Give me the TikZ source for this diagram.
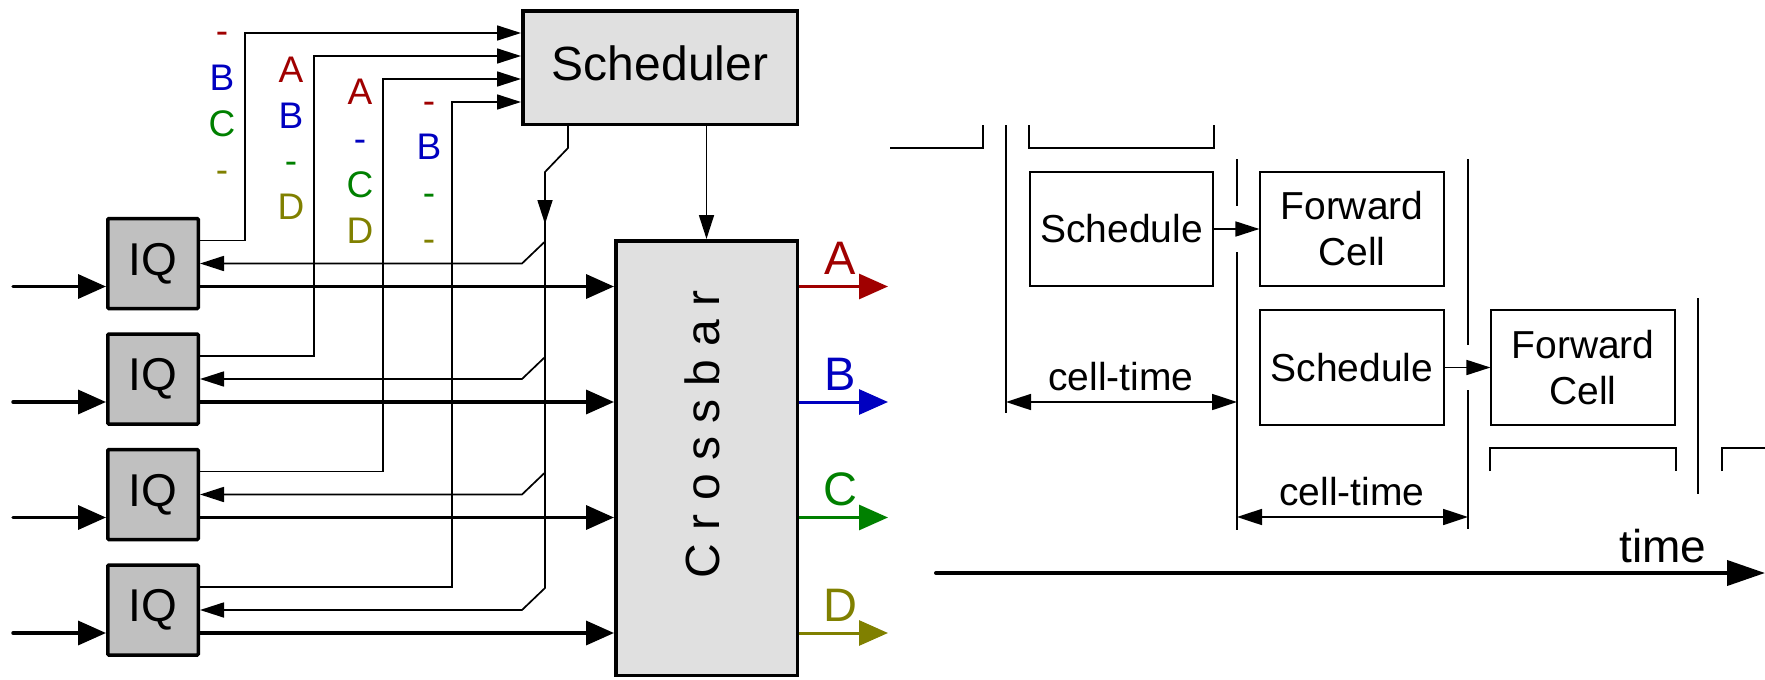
\documentclass[tikz,border=0pt]{standalone}
\usepackage{fontspec}
\setmainfont{Liberation Sans}
\usetikzlibrary{arrows.meta,calc}
\definecolor{cA}{RGB}{160,0,0}
\definecolor{cB}{RGB}{0,0,192}
\definecolor{cC}{RGB}{0,128,0}
\definecolor{cD}{RGB}{128,128,0}
\definecolor{schedfill}{RGB}{224,224,224}
\definecolor{iqfill}{RGB}{192,192,192}
\begin{document}
\begin{tikzpicture}[x=1pt,y=-1pt,
  thinln/.style={line width=1.7pt},
  thinarr/.style={line width=1.7pt,-{Triangle[length=24pt,width=15pt]}},
  thickarr/.style={line width=3.5pt,line cap=round,-{Triangle[length=28pt,width=24pt]}},
  outarr/.style={line width=3pt,-{Triangle[length=29pt,width=25pt]}},
  iq/.style={draw,line width=3.5pt,fill=iqfill,minimum width=90.5pt,minimum height=90pt,inner sep=0pt,font=\fontsize{46}{50}\selectfont,rounded corners=1pt},
  bigbox/.style={draw,line width=3.5pt,fill=schedfill,inner sep=0pt},
  tbox/.style={draw,line width=1.7pt,minimum width=183.4pt,minimum height=114.4pt,inner sep=0pt,font=\fontsize{39}{46}\selectfont,align=center},
  lab/.style={anchor=base,font=\fontsize{37}{40}\selectfont},
  outlab/.style={anchor=base,font=\fontsize{47}{50}\selectfont},
  ctarr/.style={line width=1.7pt,{Triangle[length=25pt,width=16pt]}-{Triangle[length=25pt,width=16pt]}},
  ctlab/.style={anchor=base,font=\fontsize{39}{44}\selectfont},
  timearr/.style={line width=4pt,line cap=round,-{Triangle[length=38pt,width=25pt]}}
  ]
\useasboundingbox (0,0) rectangle (1765,680);

% ---------------- left: switch ----------------
\node[bigbox,minimum width=274.5pt,minimum height=113.5pt] (sched) at (660,67.5) {};
\node[anchor=base,font=\fontsize{48}{52}\selectfont] (schedtext) at (660,80) {Scheduler};
\node[bigbox,minimum width=181.5pt,minimum height=434.5pt] (xbar) at (706.5,458) {};
\node[rotate=90,anchor=base,font=\fontsize{48}{52}\selectfont] (xbartext) at (719,434) {C r o s s b a r};

\node[iq] (IQ1) at (153,263.5) {IQ};
\node[iq] (IQ2) at (153,379) {IQ};
\node[iq] (IQ3) at (153,494.5) {IQ};
\node[iq] (IQ4) at (153,610) {IQ};

% coordinates
\coordinate (bt) at (568,148);
\coordinate (bu) at (545,172);
\coordinate (bmid) at (545,224);
\coordinate (bus) at (545,0);
\coordinate (busd) at (522,0);
\coordinate (oe) at (888,0);
\coordinate (ie) at (13,0);

\foreach \k in {1,2,3,4}{
  \coordinate (d\k) at ($(IQ\k.east)+(0,-23pt)$);
  \coordinate (u\k) at ($(IQ\k.east)+(0,23pt)$);
}
\coordinate (c1) at (245,33);
\coordinate (c2) at (314,56);
\coordinate (c3) at (383,79);
\coordinate (c4) at (452,102);

% requests to scheduler
\foreach \k in {1,2,3,4}{
  \draw[thinarr] (u\k) -| (c\k) -- (c\k -| sched.west);
}

% grant bus
\draw[thinarr] (sched.south -| bt) -- (bt) -- (bu) -- ($(IQ4.east -| bus)+(0,22pt)$) -- (IQ4.east -| busd) -- (IQ4.east);
\draw[thinarr] (bu) -- (bmid);
\foreach \k in {1,2,3}{
  \draw[thinarr] ($(IQ\k.east -| bus)+(0,22pt)$) -- (IQ\k.east -| busd) -- (IQ\k.east);
}

% scheduler to crossbar
\draw[thinarr] (sched.south -| xbar.north) -- (xbar.north);

% inputs and data paths
\foreach \k in {1,2,3,4}{
  \draw[thickarr] (d\k -| ie) -- (d\k -| IQ\k.west);
  \draw[thickarr] (d\k) -- (d\k -| xbar.west);
}

% outputs
\draw[outarr,cA] (d1 -| xbar.east) -- (d1 -| oe);
\draw[outarr,cB] (d2 -| xbar.east) -- (d2 -| oe);
\draw[outarr,cC] (d3 -| xbar.east) -- (d3 -| oe);
\draw[outarr,cD] (d4 -| xbar.east) -- (d4 -| oe);
\node[outlab,text=cA] (oA) at (840,274.5) {A};
\node[outlab,text=cB] (oB) at (840,390) {B};
\node[outlab,text=cC] (oC) at (840,505.5) {C};
\node[outlab,text=cD] (oD) at (840,621) {D};

% request labels
\node[lab,text=cA] (q1a) at (222,43) {-};
\node[lab,text=cB] (q1b) at (222,90) {B};
\node[lab,text=cC] (q1c) at (222,136) {C};
\node[lab,text=cD] (q1d) at (222,182) {-};

\node[lab,text=cA] (q2a) at (291,82) {A};
\node[lab,text=cB] (q2b) at (291,128) {B};
\node[lab,text=cC] (q2c) at (291,173) {-};
\node[lab,text=cD] (q2d) at (291,219) {D};

\node[lab,text=cA] (q3a) at (360,104) {A};
\node[lab,text=cB] (q3b) at (360,151) {-};
\node[lab,text=cC] (q3c) at (360,197) {C};
\node[lab,text=cD] (q3d) at (360,243) {D};

\node[lab,text=cA] (q4a) at (429,113) {-};
\node[lab,text=cB] (q4b) at (429,159) {B};
\node[lab,text=cC] (q4c) at (429,205) {-};
\node[lab,text=cD] (q4d) at (429,251) {-};

% ---------------- right: timeline ----------------
\node[tbox] (s1) at (1121.5,229) {Schedule};
\node[tbox] (f1) at (1352,229) {Forward\\Cell};
\node[tbox] (s2) at (1352,367.5) {Schedule};
\node[tbox] (f2) at (1583,367.5) {Forward\\Cell};

\draw[thinarr] (s1) -- (f1);
\draw[thinarr] (s2) -- (f2);

% brackets
\draw[thinln] (890,148) -- (983,148) -- (983,125);
\draw[thinln] (1029,125) -- (1029,148) -- (1214,148) -- (1214,125);
\draw[thinln] (1490,471) -- (1490,448) -- (1676,448) -- (1676,471);
\draw[thinln] (1722,471) -- (1722,448) -- (1765,448);

% cell boundaries
\draw[thinln] (1006,125) -- (1006,413);
\draw[thinln] (1237,159) -- (1237,206);
\draw[thinln] (1237,252) -- (1237,530);
\draw[thinln] (1468,159) -- (1468,345);
\draw[thinln] (1468,390) -- (1468,529);
\draw[thinln] (1698,298) -- (1698,494);

% cell-time
\coordinate (ct1a) at (1006,402);
\coordinate (ct1b) at (1237,402);
\coordinate (ct2a) at (1237,517);
\coordinate (ct2b) at (1468,517);
\draw[ctarr] (ct1a) -- (ct1b);
\draw[ctarr] (ct2a) -- (ct2b);
\node[ctlab] (ctl1) at (1121,390) {cell-time};
\node[ctlab] (ctl2) at (1352,505) {cell-time};

% time axis
\coordinate (t0) at (936,573);
\coordinate (t1) at (1765,573);
\draw[timearr] (t0) -- (t1);
\node[anchor=base,font=\fontsize{46}{50}\selectfont] (timelab) at (1663,562) {time};
\end{tikzpicture}
\end{document}
